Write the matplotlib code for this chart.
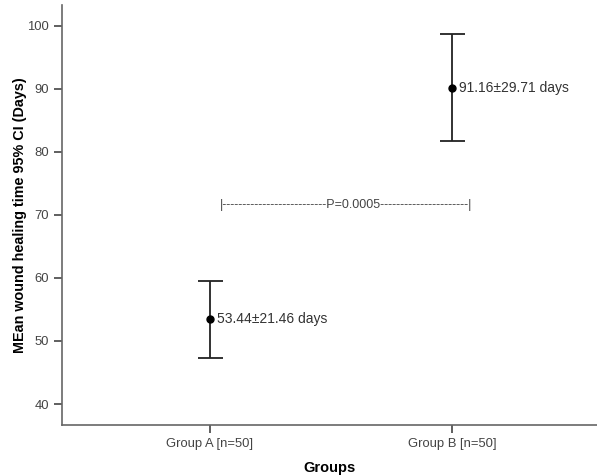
import matplotlib
matplotlib.use("Agg")
import matplotlib.pyplot as plt

plt.rcParams['font.family'] = ['Liberation Sans', 'DejaVu Sans']

groups = ["Group A [n=50]", "Group B [n=50]"]
means = [53.44, 90.2]
ci_low = [47.3, 81.8]
ci_high = [59.5, 98.7]
labels = ["53.44\u00b121.46 days", "91.16\u00b129.71 days"]
p_text = "P=0.0005"
p_level = 71.5
yticks = [40, 50, 60, 70, 80, 90, 100]

fig = plt.figure(figsize=(5.97, 4.75), dpi=100)
ax = fig.add_axes([62/597, 1-425/475, (597-62)/597, 420/475])

x = list(range(len(groups)))
lower = [m - l for m, l in zip(means, ci_low)]
upper = [h - m for m, h in zip(means, ci_high)]
ax.errorbar(x, means, yerr=[lower, upper], fmt='o', color='black', ms=5,
            ecolor='#222222', elinewidth=1.3, capsize=9, capthick=1.3)
for xi, m, lab in zip(x, means, labels):
    ax.annotate(lab, (xi, m), xytext=(5, 0), textcoords='offset points',
                va='center', ha='left', fontsize=10, color='#333333')

ptxt = "|" + "-" * 26 + p_text + "-" * 22 + "|"
ax.text(0.562, p_level, ptxt, ha='center', va='center', fontsize=9, color='#444444')

ax.set_xlim(-0.61, 1.6)
ax.set_ylim(36.67, 103.3)
ax.set_yticks(yticks)
ax.set_xticks(x)
ax.set_xticklabels(groups)
ax.tick_params(axis='both', labelsize=9.4, colors='#444444', length=6, width=1.2)
for s in ['top', 'right']:
    ax.spines[s].set_visible(False)
for s in ['left', 'bottom']:
    ax.spines[s].set_color('#666666')
    ax.spines[s].set_linewidth(1.2)
ax.set_xlabel("Groups", fontsize=10.5, fontweight='bold', labelpad=8)
ax.set_ylabel("MEan wound healing time 95% CI (Days)", fontsize=10.4, fontweight='bold', labelpad=0)

fig.savefig("out.png", dpi=100)
